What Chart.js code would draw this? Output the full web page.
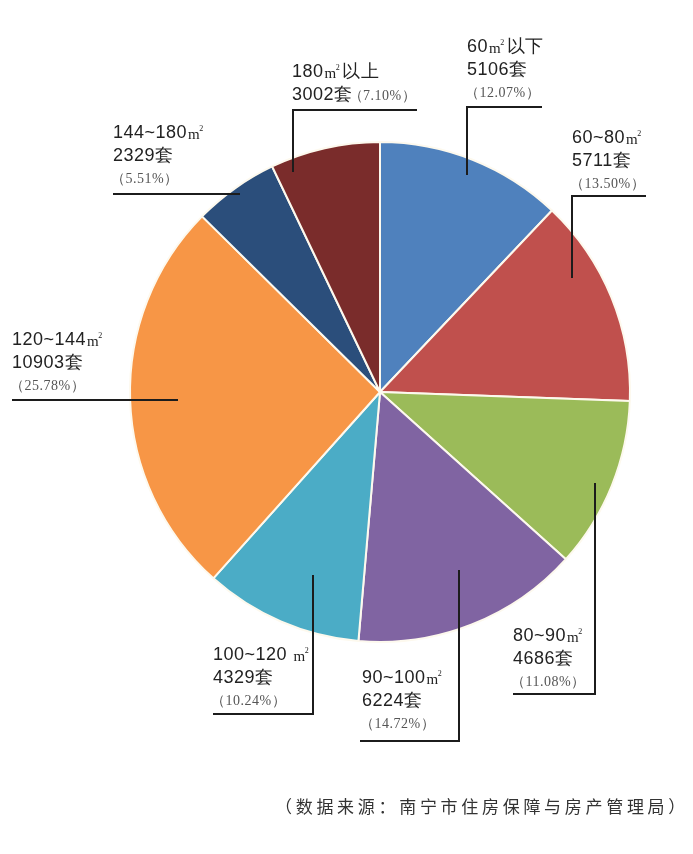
<!DOCTYPE html>
<html>
<head>
<meta charset="utf-8">
<script src="https://cdn.jsdelivr.net/npm/chart.js"></script>
<style>
    body { margin: 0; background: #fff; }
    #wrap { position: relative; width: 693px; height: 854px; }
    #source {
        position: absolute; right: 4px; top: 793px;
        font-family: "Noto Sans CJK SC", sans-serif; font-size: 17px;
        letter-spacing: 3.7px; color: #333;
    }
</style>
</head>
<body>
<div id="wrap">
    <canvas id="pie"></canvas>
    <div id="source">（数据来源：南宁市住房保障与房产管理局）</div>
</div>
<script>
    // data, clockwise from 12 o'clock
    const categories = ["60㎡以下", "60~80㎡", "80~90㎡", "90~100㎡", "100~120 ㎡", "120~144㎡", "144~180㎡", "180㎡以上"];
    const units = [5106, 5711, 4686, 6224, 4329, 10903, 2329, 3002];
    const percents = ["12.07%", "13.50%", "11.08%", "14.72%", "10.24%", "25.78%", "5.51%", "7.10%"];
    const colors = ["#4f81bd", "#c0504d", "#9bbb59", "#8064a2", "#4bacc6", "#f79646", "#2b4e7b", "#7a2c2b"];

    // where each callout sits (text top-left + leader polyline)
    const labelLayout = [
        { x: 467, y: 47, line: [[542, 107], [467, 107], [467, 175]] },
        { x: 572, y: 138, line: [[646, 196], [572, 196], [572, 278]] },
        { x: 513, y: 636, line: [[513, 694], [595, 694], [595, 483]] },
        { x: 362, y: 678, line: [[360, 741], [459, 741], [459, 570]] },
        { x: 213, y: 655, line: [[213, 714], [313, 714], [313, 575]] },
        { x: 12, y: 340, line: [[12, 400], [178, 400]] },
        { x: 113, y: 133, line: [[113, 194], [240, 194]] },
        { x: 292, y: 72, inline: true, line: [[417, 110], [293, 110], [293, 172]] }
    ];

    const SANS = '"Liberation Sans", Arial, sans-serif';
    const SERIF = '"Liberation Serif", "Times New Roman", serif';

    function drawName(ctx, text, x, y) {
        // the ㎡ sign is set as a serif m with a tiny raised 2
        const parts = text.split("㎡");
        ctx.font = "18px " + SANS;
        ctx.fillText(parts[0], x, y);
        x += ctx.measureText(parts[0]).width + 1;
        ctx.font = "15px " + SERIF;
        ctx.fillText("m", x, y + 2);
        x += ctx.measureText("m").width;
        ctx.font = "8px " + SERIF;
        ctx.fillText("2", x - 1, y - 4);
        x += ctx.measureText("2").width + 1;
        ctx.font = "18px " + SANS;
        if (parts[1]) ctx.fillText(parts[1], x, y);
    }

    const calloutPlugin = {
        id: "callouts",
        afterDraw(chart) {
            const ctx = chart.ctx;
            ctx.save();
            ctx.textBaseline = "middle";
            ctx.textAlign = "left";
            if ("letterSpacing" in ctx) ctx.letterSpacing = "0.5px";
            labelLayout.forEach((l, i) => {
                ctx.fillStyle = "#222";
                drawName(ctx, categories[i], l.x, l.y);
                ctx.font = "18px " + SANS;
                const countText = units[i] + "套";
                ctx.fillText(countText, l.x, l.y + 23);
                ctx.font = "14px " + SERIF;
                ctx.fillStyle = "#555";
                if (l.inline) {
                    ctx.font = "18px " + SANS;
                    const w = ctx.measureText(countText).width;
                    ctx.font = "14px " + SERIF;
                    ctx.fillText("（" + percents[i] + "）", l.x + w - 4, l.y + 24);
                } else {
                    ctx.fillText("（" + percents[i] + "）", l.x - 2, l.y + 46);
                }

                ctx.strokeStyle = "#1c1c1c";
                ctx.lineWidth = 2;
                ctx.beginPath();
                l.line.forEach((p, k) => k ? ctx.lineTo(p[0], p[1]) : ctx.moveTo(p[0], p[1]));
                ctx.stroke();
            });
            ctx.restore();
        }
    };

    new Chart(document.getElementById("pie"), {
        type: "pie",
        data: {
            labels: categories,
            datasets: [{
                data: units,
                backgroundColor: colors,
                borderColor: "#fdf9ee",
                borderWidth: 2
            }]
        },
        options: {
            responsive: true,
            maintainAspectRatio: false,
            animation: false,
            layout: { padding: { left: 129, right: 62, top: 141, bottom: 211 } },
            plugins: {
                legend: { display: false },
                tooltip: { enabled: false }
            }
        },
        plugins: [calloutPlugin]
    });
</script>
</body>
</html>
